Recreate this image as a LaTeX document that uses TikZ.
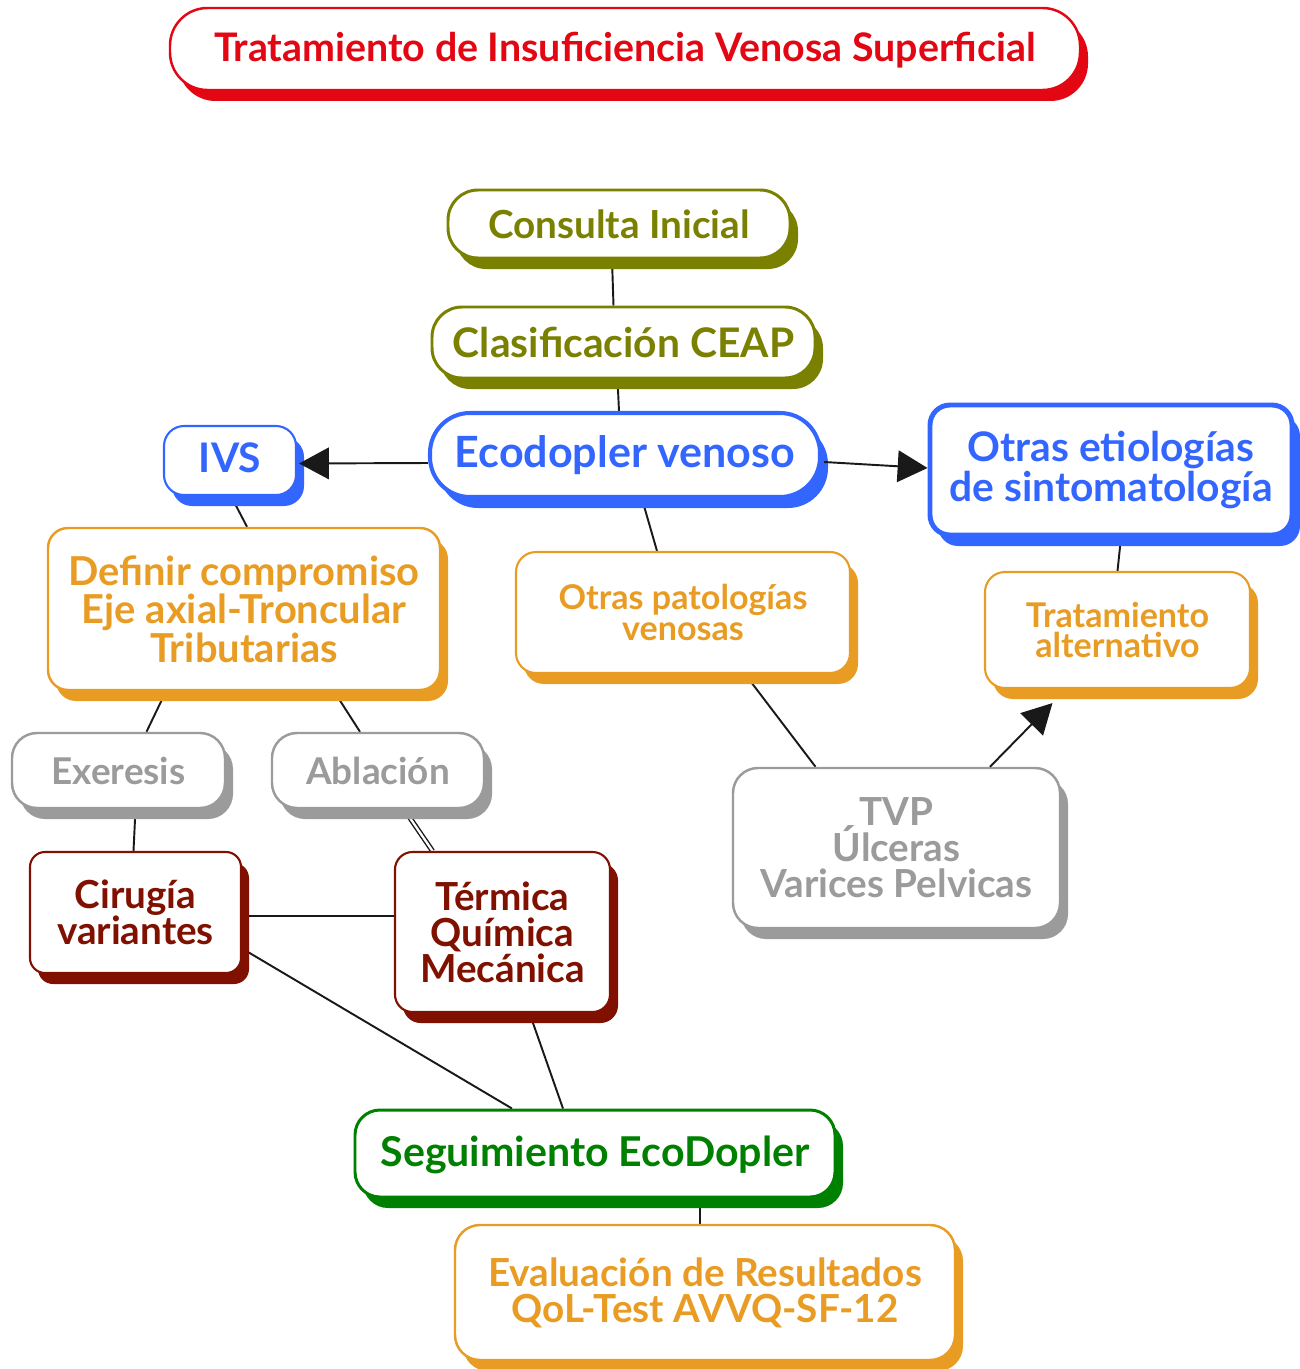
\documentclass[tikz,border=0pt]{standalone}
\usepackage{fontspec}
\setmainfont{Lato}
\usepackage{tikz}
\usetikzlibrary{positioning,calc,shadows,backgrounds,arrows.meta}

\definecolor{cred}{RGB}{227,6,19}
\definecolor{colive}{RGB}{122,128,0}
\definecolor{cblue}{RGB}{51,102,255}
\definecolor{corange}{RGB}{233,156,36}
\definecolor{cgray}{RGB}{155,155,155}
\definecolor{cdred}{RGB}{128,17,0}
\definecolor{cgreen}{RGB}{0,128,0}

\newcommand\ftitle{\fontsize{22.4}{20.5}\selectfont\bfseries}
\newcommand\fbig{\fontsize{22}{20.5}\selectfont\bfseries}
\newcommand\fwide{\fontsize{23.2}{20.5}\selectfont\bfseries}
\newcommand\fmid{\fontsize{21}{19.5}\selectfont\bfseries}
\newcommand\fsml{\fontsize{19.4}{17.6}\selectfont\bfseries}

\tikzset{
  box/.style={draw=#1, text=#1, fill=white, align=center, inner sep=0pt,
    drop shadow={shadow xshift=0.16cm, shadow yshift=-0.22cm, opacity=1, fill=#1}},
  wh/.style 2 args={minimum width=#1*0.02cm, minimum height=#2*0.02cm},
  link/.style={draw=black!90, line width=1.1pt},
  tip/.style={-{Triangle[length=17pt,width=18pt]}},
}

\begin{document}
\begin{tikzpicture}[x=0.02cm,y=-0.02cm]
\useasboundingbox (0,0) rectangle (1300,1369);

\node[box=cred, wh={910}{82}, rounded corners=0.75cm, line width=1.4pt, font=\ftitle, text depth=0.1cm] (title) at (625,49) {Tratamiento de Insuficiencia Venosa Superficial};

\node[box=colive, wh={342}{68}, rounded corners=0.6cm, line width=1.7pt, font=\fbig] (cons) at (619,224) {Consulta Inicial};
\node[box=colive, wh={383}{71}, rounded corners=0.6cm, line width=1.7pt, font=\fwide] (clas) at (623.5,342.5) {Clasificación CEAP};
\node[box=cblue, wh={390}{84}, rounded corners=0.8cm, line width=2.3pt, font={\fontsize{24.5}{21}\selectfont\bfseries}, text depth=0.12cm] (eco) at (625,455) {Ecodopler venoso};
\node[box=cblue, wh={132}{69}, rounded corners=0.4cm, line width=1.2pt, font=\fwide, text depth=0.1cm] (ivs) at (230,460.5) {IVS};
\node[box=cblue, wh={362}{130}, rounded corners=0.4cm, line width=2.8pt, font=\fwide] (oet) at (1111,470) {Otras etiologías\\de sintomatología};

\node[box=corange, wh={392}{162}, rounded corners=0.4cm, line width=1.4pt, font={\fontsize{22.7}{20.5}\selectfont\bfseries}] (def) at (244,609) {Definir compromiso\\Eje axial-Troncular\\Tributarias};
\node[box=corange, wh={334}{121}, rounded corners=0.4cm, line width=1.2pt, font=\fsml] (opat) at (683,612.5) {Otras patologías\\venosas};
\node[box=corange, wh={265}{116}, rounded corners=0.4cm, line width=1.2pt, font=\fsml] (talt) at (1117.5,630) {Tratamiento\\alternativo};

\node[box=cgray, wh={213}{75}, rounded corners=0.5cm, line width=1.4pt, font=\fmid] (exer) at (118.5,770.5) {Exeresis};
\node[box=cgray, wh={212}{75}, rounded corners=0.5cm, line width=1.4pt, font=\fmid] (abl) at (378,770.5) {Ablación};
\node[box=cgray, wh={327}{160}, rounded corners=0.5cm, line width=1.4pt, font=\fbig] (tvp) at (896.5,848) {TVP\\Úlceras\\Varices Pelvicas};

\node[box=cdred, wh={211}{121}, rounded corners=0.3cm, line width=1.2pt, font=\fbig] (cir) at (135.5,912.5) {Cirugía\\variantes};
\node[box=cdred, wh={215}{160}, rounded corners=0.35cm, line width=1.2pt, font=\fbig] (tqm) at (502.5,932) {Térmica\\Química\\Mecánica};

\node[box=cgreen, wh={480}{87}, rounded corners=0.5cm, line width=1.7pt, font={\fontsize{23.4}{20.5}\selectfont\bfseries}, text depth=0.1cm] (seg) at (595,1153.5) {Seguimiento EcoDopler};
\node[box=corange, wh={500}{135}, rounded corners=0.5cm, line width=1.4pt, font=\fbig] (eva) at (705,1292.5) {Evaluación de Resultados\\QoL-Test AVVQ-SF-12};

\begin{scope}[on background layer]
\draw[link] ($(cons.south)+(-7,0)$) -- ($(clas.north)+(-10,0)$);
\draw[link] ($(clas.south)+(-6,0)$) -- ($(eco.north)+(-6,0)$);
\draw[link] ($(eco.south)+(17,0)$) -- ($(opat.north)+(-26,0)$);
\draw[link] ($(ivs.south)+(1,0)$) -- ($(def.north)+(3,0)$);
\draw[link] ($(oet.south)+(10,0)$) -- (talt.north);
\draw[link] ($(def.south)+(-78,0)$) -- ($(exer.north)+(28,0)$);
\draw[link] ($(def.south)+(90,0)$) -- ($(abl.north)+(-18,0)$);
\draw[link] ($(exer.south)+(17,0)$) -- ($(cir.north)+(-2,0)$);
\draw[link, double=white, double distance=1.3pt, line width=0.8pt] ($(abl.south)+(26,0)$) -- ($(tqm.north)+(-70,0)$);
\draw[link] ($(cir.east)+(0,3.5)$) -- ($(tqm.west)+(0,-16)$);
\draw[link] ($(cir.east)+(0,36)$) -- ($(seg.north)+(-83,0)$);
\draw[link] ($(tqm.south)+(27,0)$) -- ($(seg.north)+(-32,0)$);
\draw[link] ($(opat.south)+(62,0)$) -- ($(tvp.north)+(-81,0)$);
\draw[link] ($(seg.south)+(105,0)$) -- ($(eva.north)+(-5,0)$);
\end{scope}

\draw[link, tip] ($(eco.west)+(0,8)$) -- ($(ivs.east)+(2,3)$);
\draw[link, tip] ($(eco.east)+(2,7)$) -- ($(oet.west)+(0,-2)$);
\draw[link, tip] ($(tvp.north)+(93.5,0)$) -- ($(talt.south)+(-65,14)$);
\end{tikzpicture}
\end{document}
